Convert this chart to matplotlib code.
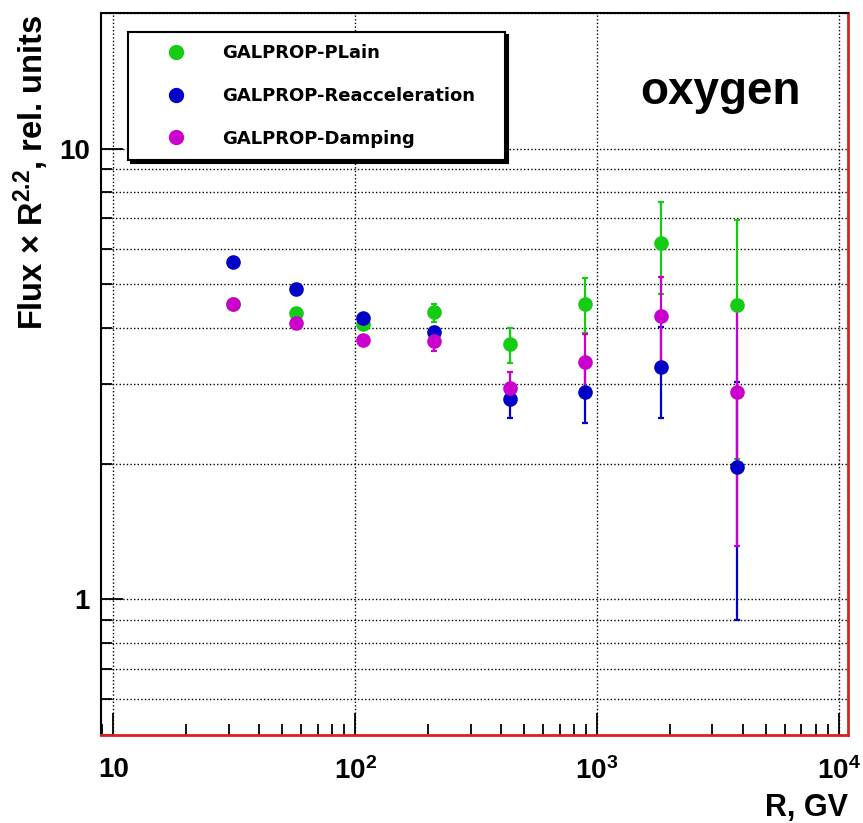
import numpy as np
import matplotlib.pyplot as plt
from matplotlib.lines import Line2D
from matplotlib.ticker import LogLocator, NullFormatter, FixedLocator

plt.rcParams['font.family'] = ['Liberation Sans', 'DejaVu Sans']
plt.rcParams['mathtext.default'] = 'regular'

# rigidity points (GV)
R = [31.3, 57, 108, 212, 437, 891, 1840, 3790]

plain = [4.53, 4.31, 4.09, 4.35, 3.68, 4.53, 6.19, 4.51]
plain_lo = [4.46, 4.24, 4.02, 4.13, 3.34, 3.89, 4.77, 2.05]
plain_hi = [4.60, 4.38, 4.16, 4.53, 3.99, 5.17, 7.63, 6.96]

reac = [5.59, 4.89, 4.20, 3.91, 2.79, 2.88, 3.27, 1.97]
reac_lo = [5.50, 4.81, 4.12, 3.80, 2.53, 2.46, 2.53, 0.898]
reac_hi = [5.68, 4.97, 4.28, 4.03, 3.00, 3.30, 4.03, 3.03]

damp = [4.53, 4.11, 3.77, 3.75, 2.95, 3.37, 4.26, 2.88]
damp_lo = [4.46, 4.04, 3.70, 3.56, 2.75, 2.90, 3.35, 1.31]
damp_hi = [4.60, 4.18, 3.84, 3.94, 3.20, 3.87, 5.20, 4.40]

labels = ['GALPROP-PLain', 'GALPROP-Reacceleration', 'GALPROP-Damping']
colors = ['#14cc14', '#0000c8', '#cc00cc']

fig = plt.figure(figsize=(8.63, 8.23), dpi=100)
ax = fig.add_axes([101/863, 1-735/823, 747/863, 722/823])

series = [(plain, plain_lo, plain_hi), (reac, reac_lo, reac_hi), (damp, damp_lo, damp_hi)]
handles = []
for (y, lo, hi), lab, c in zip(series, labels, colors):
    y = np.array(y)
    err = [y - np.array(lo), np.array(hi) - y]
    ax.errorbar(R, y, yerr=err, fmt='o', color=c, ms=9.5, elinewidth=1.6,
                capsize=2.5, capthick=1.6)
    handles.append(Line2D([], [], marker='o', ls='none', color=c, ms=10, label=lab))

ax.set_xscale('log')
ax.set_yscale('log')
ax.set_xlim(8.9, 10900)
ax.set_ylim(0.5, 20)

ax.xaxis.set_major_locator(FixedLocator([10, 100, 1000, 10000]))
ax.set_xticklabels(['10', '$10^2$', '$10^3$', '$10^4$'])
ax.xaxis.set_minor_locator(LogLocator(base=10, subs=np.arange(2, 10)))
ax.xaxis.set_minor_formatter(NullFormatter())
ax.yaxis.set_major_locator(FixedLocator([1, 10]))
ax.set_yticklabels(['1', '10'])
ax.yaxis.set_minor_locator(LogLocator(base=10, subs=np.arange(2, 10)))
ax.yaxis.set_minor_formatter(NullFormatter())

ax.tick_params(which='both', direction='in', top=False, right=False, width=1.3)
ax.tick_params(which='major', length=16)
ax.tick_params(which='minor', length=8)
ax.tick_params(axis='x', which='major', pad=16, labelsize=20)
ax.tick_params(axis='y', which='major', pad=8, labelsize=20)
for t in ax.get_xticklabels() + ax.get_yticklabels():
    t.set_fontweight('bold')

ax.grid(True, which='major', axis='x', color='k', ls=(0, (1, 1.6)), lw=1)
ax.grid(True, which='both', axis='y', color='k', ls=(0, (1, 1.6)), lw=1)

for s in ['left', 'top']:
    ax.spines[s].set_linewidth(1.5)
for s in ['bottom', 'right']:
    ax.spines[s].set_color('#dd2020')
    ax.spines[s].set_linewidth(2)

leg = ax.legend(handles=handles, loc='upper left',
                bbox_to_anchor=(0.036, 0.787, 0.505, 0.187),
                mode='expand', fancybox=False, framealpha=1, edgecolor='k',
                shadow={'color': 'k', 'alpha': 1},
                prop={'family': 'DejaVu Sans', 'weight': 'bold', 'size': 13},
                handlelength=3.9, handletextpad=0.6, labelspacing=1.36,
                borderpad=0.7, borderaxespad=0)
leg.get_frame().set_linewidth(1.5)

fig.text(31/863, 1-14/823, 'Flux × R$^{2.2}$, rel. units', rotation=90,
         ha='center', va='top', fontsize=23.5, fontweight='bold')
fig.text(848/863, 1-808/823, 'R, GV', ha='right', va='center',
         fontsize=22, fontweight='bold')
fig.text(720/863, 1-92/823, 'oxygen', ha='center', va='center',
         fontsize=33, fontweight='bold')

fig.savefig('out.png', dpi=100)
